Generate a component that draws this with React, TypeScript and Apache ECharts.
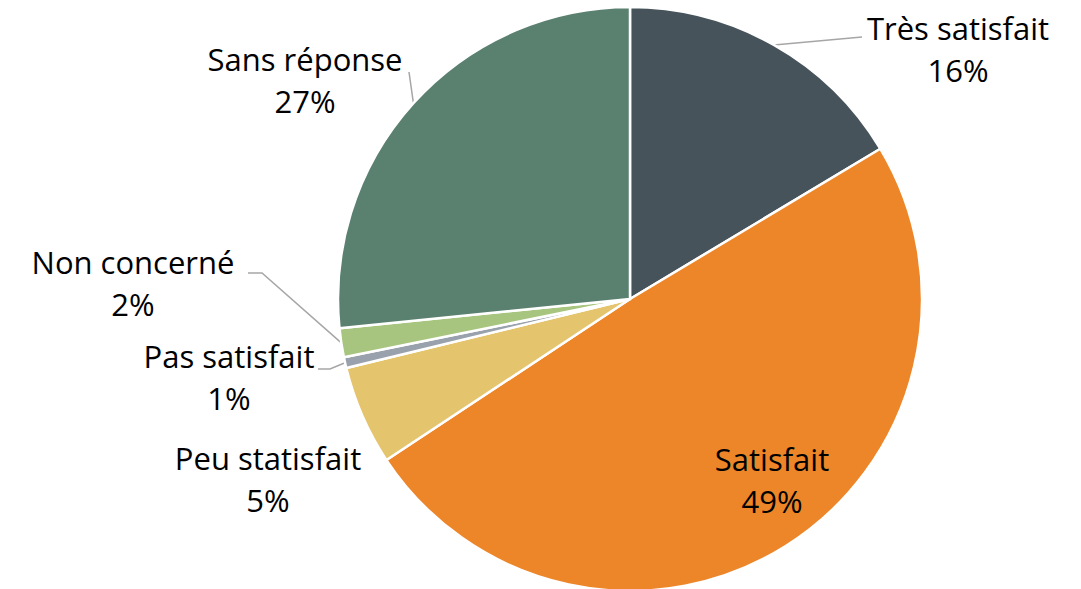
import React, { useEffect, useRef } from "react";
import * as echarts from "echarts";

const categories = ["Très satisfait", "Satisfait", "Peu statisfait", "Pas satisfait", "Non concerné", "Sans réponse"];
const values = [16.4, 49.3, 5.5, 0.6, 1.6, 26.6];
const colors = ["#46535A", "#EC8629", "#E5C46E", "#99A2AC", "#A8C57F", "#5A8070"];
const showLine = [true, false, false, true, true, true];

// label block centers and leader line elbows/ends (layout only)
const labelCenters: [number, number][] = [
  [958, 49],
  [772, 480],
  [268, 479],
  [229, 377],
  [133, 283],
  [305, 80],
];
const lineEnds: [number, number][][] = [
  [[862, 37]],
  [],
  [],
  [[330, 369], [318, 369]],
  [[262, 273], [248, 273]],
  [[409, 72]],
];

export default function App() {
  const ref = useRef<HTMLDivElement>(null);
  useEffect(() => {
    document.body.style.margin = "0";
    const chart = echarts.init(ref.current!, null, { renderer: "svg" });
    chart.setOption({
      animation: false,
      backgroundColor: "#ffffff",
      series: [
        {
          type: "pie",
          center: [630, 299],
          radius: 292,
          startAngle: 90,
          clockwise: true,
          percentPrecision: 0,
          avoidLabelOverlap: false,
          itemStyle: { borderColor: "#ffffff", borderWidth: 2.5 },
          label: {
            show: true,
            position: "outside",
            formatter: "{b}\n{d}%",
            color: "#000000",
            fontFamily: "Open Sans",
            fontSize: 31,
            lineHeight: 42,
            align: "center",
          },
          labelLine: {
            show: true,
            length: 10,
            length2: 10,
            lineStyle: { color: "#A6A6A6", width: 1.5 },
          },
          labelLayout: (params: any) => {
            const i = params.dataIndex;
            const c = labelCenters[i];
            const out: any = { x: c[0], y: c[1], align: "center", verticalAlign: "middle" };
            if (showLine[i] && params.labelLinePoints) {
              const start = params.labelLinePoints[0];
              const pts = [start, ...lineEnds[i]];
              while (pts.length < 3) pts.splice(1, 0, start);
              out.labelLinePoints = pts;
            }
            return out;
          },
          data: categories.map((name, i) => ({
            name,
            value: values[i],
            itemStyle: { color: colors[i] },
            labelLine: { show: showLine[i] },
          })),
        },
      ],
    });
    return () => chart.dispose();
  }, []);
  return <div ref={ref} style={{ width: 1081, height: 589 }} />;
}
